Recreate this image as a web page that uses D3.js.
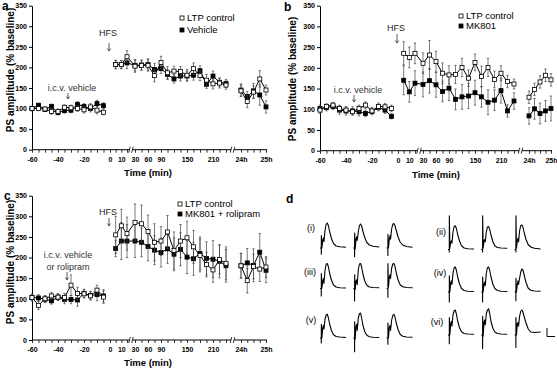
<!DOCTYPE html>
<html>
<head>
<meta charset="utf-8">
<script src="https://cdn.jsdelivr.net/npm/d3@7"></script>
<style>
body { margin: 0; background: #fff; }
svg { display: block; font-family: "Liberation Sans", Arial, sans-serif; }
</style>
</head>
<body>
<script>
var width = 557;
var height = 370;

// time points in minutes (24h block counted as minutes too)
var baseTimes = [-60, -55, -50, -45, -40, -35, -30, -25, -20, -15, -10, -5];
var postTimes = [5, 10, 15, 30, 45, 60, 75, 90, 105, 120, 135, 150, 165, 180, 195, 210, 225, 240];
var dayTimes = [1440, 1455, 1470, 1485, 1500];
var tickMinutes = [-60, -40, -20, 0, 10, 30, 60, 90, 150, 210, 1440, 1500];
var tickLabels = ["-60", "-40", "-20", "0", "10", "30", "60", "90", "150", "210", "24h", "25h"];
var yTicks = [0, 50, 100, 150, 200, 250, 300, 350];

// panel a
var ctrlA = [100, 100, 99, 93, 93, 103, 102, 100, 97, 104, 96, 91,
  207, 207, 226, 203, 205, 205, 180, 212, 187, 191, 190, 181, 197, 180, 169, 160, 162, 157,
  143, 117, 140, 172, 145];
var errCtrlA = [6, 5, 5, 7, 6, 6, 6, 7, 8, 8, 9, 6,
  10, 10, 15, 15, 12, 14, 15, 15, 15, 12, 12, 14, 14, 12, 14, 12, 12, 10,
  14, 15, 15, 20, 12];
var vehA = [100, 108, 98, 105, 90, 95, 96, 110, 105, 100, 112, 107,
  207, 207, 211, 205, 206, 207, 195, 197, 183, 172, 179, 179, 181, 192, 159, 179, 164, 161,
  145, 129, 143, 133, 104];
var errVehA = [5, 5, 5, 6, 5, 6, 6, 7, 7, 8, 8, 7,
  10, 10, 14, 14, 12, 14, 15, 12, 12, 10, 12, 12, 12, 12, 10, 12, 10, 10,
  15, 12, 18, 25, 15];

// panel b
var ctrlB = [98, 107, 110, 102, 98, 94, 102, 110, 96, 107, 106, 102,
  235, 225, 235, 211, 231, 215, 187, 183, 184, 201, 175, 213, 179, 201, 172, 187, 167, 161,
  129, 148, 166, 182, 171];
var errCtrlB = [8, 6, 6, 8, 8, 8, 8, 8, 8, 8, 8, 8,
  28, 25, 25, 25, 35, 25, 25, 22, 22, 22, 20, 20, 25, 22, 20, 18, 15, 12,
  15, 15, 15, 15, 15];
var mkB = [102, 104, 107, 98, 96, 96, 94, 90, 95, 104, 98, 83,
  170, 142, 163, 160, 169, 159, 143, 151, 124, 130, 132, 140, 130, 117, 122, 145, 96, 120,
  84, 101, 90, 96, 102];
var errMkB = [8, 8, 8, 10, 10, 10, 10, 8, 8, 8, 8, 6,
  35, 25, 30, 30, 30, 30, 25, 30, 25, 30, 30, 30, 25, 30, 25, 30, 15, 20,
  20, 25, 25, 25, 30];

// panel c
var ctrlC = [103, 84, 100, 107, 104, 103, 133, 113, 112, 107, 121, 104,
  255, 277, 258, 285, 282, 263, 237, 240, 262, 217, 240, 248, 226, 205, 183, 170, 195, 186,
  180, 144, 178, 172, 177];
var errCtrlC = [8, 10, 8, 8, 8, 10, 25, 15, 10, 10, 12, 15,
  45, 40, 40, 45, 45, 40, 45, 35, 40, 45, 40, 40, 40, 40, 30, 30, 35, 40,
  30, 30, 30, 30, 25];
var mkRoliC = [103, 102, 99, 95, 104, 98, 98, 97, 113, 108, 110, 107,
  222, 240, 240, 240, 237, 227, 218, 212, 221, 208, 220, 201, 197, 210, 198, 196, 191, 180,
  180, 187, 181, 213, 169];
var errMkRoliC = [8, 8, 8, 8, 8, 10, 10, 15, 10, 10, 15, 15,
  20, 45, 40, 40, 35, 35, 35, 35, 35, 40, 40, 40, 40, 40, 40, 45, 40, 40,
  30, 35, 40, 45, 30];

// panel d: field potential traces (ms, amplitude relative to peak)
var traceT = [0, 1.2, 1.25, 1.3, 1.8, 2.6, 3.3, 3.8, 4.8, 5.9, 7, 8, 9.3, 11, 13, 15.5, 19, 25];
var traceLabels = ["(i)", "(ii)", "(iii)", "(iv)", "(v)", "(vi)"];
var tracesI = [
  [0, 0, -0.25, 0.5, 0.0, 0.3, 0.4, 0.25, 0.7, 0.95, 1.0, 0.9, 0.65, 0.38, 0.18, 0.08, 0.05, 0.03],
  [0, 0, -0.35, 0.6, -0.05, 0.35, 0.45, 0.3, 0.65, 0.9, 0.96, 0.88, 0.66, 0.42, 0.22, 0.12, 0.07, 0.04],
  [0, 0, -0.3, 0.55, 0.0, 0.35, 0.5, 0.35, 0.75, 0.95, 0.98, 0.9, 0.7, 0.45, 0.24, 0.12, 0.06, 0.03]];
var tracesII = [
  [0, 0, -0.1, 1.35, 0.05, 0.3, 0.35, 0.25, 0.7, 0.92, 0.95, 0.85, 0.6, 0.35, 0.15, 0.06, 0.03, 0.02],
  [0, 0, -0.1, 1.35, 0.05, 0.35, 0.4, 0.3, 0.7, 0.9, 0.92, 0.82, 0.58, 0.33, 0.15, 0.08, 0.06, 0.05],
  [0, 0, -0.1, 1.35, 0.05, 0.35, 0.45, 0.3, 0.75, 0.95, 0.98, 0.9, 0.66, 0.4, 0.2, 0.1, 0.05, 0.02]];
var tracesIII = [
  [0, 0, -0.3, 0.6, 0.0, 0.3, 0.4, 0.2, 0.72, 0.97, 1.0, 0.88, 0.6, 0.33, 0.14, 0.06, 0.03, 0.02],
  [0, 0, -0.5, 0.55, -0.05, 0.3, 0.35, 0.15, 0.75, 0.98, 1.0, 0.86, 0.58, 0.3, 0.13, 0.06, 0.04, 0.03],
  [0, 0, -0.35, 1.0, 0.05, 0.45, 0.55, 0.4, 0.8, 0.98, 1.0, 0.9, 0.62, 0.35, 0.15, 0.07, 0.04, 0.03]];
var tracesIV = [
  [0, 0, -0.4, 0.65, 0.0, 0.35, 0.45, 0.3, 0.75, 0.97, 1.0, 0.88, 0.6, 0.33, 0.14, 0.06, 0.03, 0.02],
  [0, 0, -0.4, 0.6, 0.0, 0.3, 0.4, 0.25, 0.75, 0.97, 1.0, 0.88, 0.6, 0.33, 0.14, 0.06, 0.03, 0.02],
  [0, 0, -0.35, 0.55, 0.0, 0.3, 0.45, 0.3, 0.55, 0.8, 0.92, 0.88, 0.66, 0.38, 0.16, 0.07, 0.04, 0.03]];
var tracesV = [
  [0, 0, -0.2, 0.55, 0.0, 0.4, 0.5, 0.35, 0.75, 0.92, 0.95, 0.82, 0.55, 0.3, 0.13, 0.06, 0.04, 0.02],
  [0, 0, -0.55, 0.65, -0.05, 0.45, 0.55, 0.3, 0.8, 0.97, 1.0, 0.8, 0.5, 0.26, 0.11, 0.05, 0.03, 0.02],
  [0, 0, -0.25, 0.6, 0.0, 0.4, 0.5, 0.3, 0.7, 0.9, 0.95, 0.85, 0.6, 0.34, 0.15, 0.07, 0.04, 0.03]];
var tracesVI = [
  [0, 0, -0.35, 0.7, 0.0, 0.45, 0.55, 0.35, 0.8, 0.97, 1.0, 0.85, 0.56, 0.3, 0.13, 0.06, 0.04, 0.03],
  [0, 0, -0.55, 0.75, -0.05, 0.5, 0.6, 0.4, 0.85, 1.0, 1.05, 0.88, 0.55, 0.28, 0.12, 0.06, 0.04, 0.03],
  [0, 0, -0.5, 0.7, 0.0, 0.45, 0.5, 0.35, 0.75, 0.95, 1.0, 0.92, 0.72, 0.48, 0.25, 0.12, 0.1, 0.12]];

var times = baseTimes.concat(postTimes, dayTimes);
var segments = [[0, 12], [12, 30], [30, 35]];

var svg = d3.select("body")
    .append("svg")
    .attr("width", width)
    .attr("height", height)

var panels = [
  { letter: "a", lx: 2, ly: 10, left: 32, right: 234, top: 5.7, bottom: 149.7,
    ctrl: ctrlA, ctrlErr: errCtrlA, drug: vehA, drugErr: errVehA,
    names: ["LTP control", "Vehicle"], legX: 182, legY: [18, 30],
    hfs: [108, 36, 43, 51], icv: [72, 91, ["i.c.v. vehicle"], 68, 93, 99],
    titleX: 10, titleY: 70, timeY: 176 },
  { letter: "b", lx: 284, ly: 11, left: 320, right: 231, top: 5.7, bottom: 150.7,
    ctrl: ctrlB, ctrlErr: errCtrlB, drug: mkB, drugErr: errMkB,
    names: ["LTP control", "MK801"], legX: 461, legY: [16, 26],
    hfs: [396, 31, 34, 43], icv: [358, 93, ["i.c.v. vehicle"], 354, 95, 102],
    titleX: 292, titleY: 79, timeY: 178 },
  { letter: "c", lx: 4, ly: 200, left: 32, right: 234, top: 195.7, bottom: 340,
    ctrl: ctrlC, ctrlErr: errCtrlC, drug: mkRoliC, drugErr: errMkRoliC,
    names: ["LTP control", "MK801  +  rolipram"], legX: 180, legY: [204, 214],
    hfs: [108, 215, 218, 226], icv: [68, 258, ["i.c.v. vehicle", "or rolipram"], 67, 272, 280],
    titleX: 10, titleY: 262, timeY: 366 }
];

panels.forEach(function (p) {
  var g = svg.append("g");
  var L = p.left;
  var x = d3.scaleLinear()
      .domain([-60, 0, 15, 30, 240, 1440, 1500])
      .range([L, L + 78, L + 95, L + 103, L + 194, L + 209, L + p.right]);
  var y = d3.scaleLinear().domain([0, 350]).range([p.bottom, p.top]);

  // y axis
  var yAxis = d3.axisLeft(y).tickValues(yTicks).tickSize(3).tickSizeOuter(0).tickPadding(2);
  g.append("g")
      .attr("transform", "translate(" + L + ",0)")
      .call(yAxis)
      .call(function (s) {
        s.selectAll("text").attr("font-size", 7).attr("font-weight", "bold").attr("fill", "#000");
        s.selectAll("line,path").attr("stroke", "#000");
      });

  // x axis: minor ticks then labels
  var minor = d3.axisBottom(x).tickValues(times.concat([0])).tickSize(3).tickFormat("");
  g.append("g")
      .attr("transform", "translate(0," + p.bottom + ")")
      .call(minor)
      .call(function (s) {
        s.select(".domain").remove();
        s.selectAll("line").attr("stroke", "#000").attr("stroke-width", 0.8);
      });
  var labels = d3.axisBottom(x).tickValues(tickMinutes).tickSize(0).tickPadding(7)
      .tickFormat(function (d, i) { return tickLabels[i]; });
  g.append("g")
      .attr("transform", "translate(0," + p.bottom + ")")
      .call(labels)
      .call(function (s) {
        s.select(".domain").remove();
        s.selectAll("text").attr("font-size", 7).attr("font-weight", "bold").attr("fill", "#000");
      });

  // axis line with breaks
  var pieces = [[L, L + 97.5], [L + 100.5, L + 199], [L + 202, L + p.right + 1]];
  pieces.forEach(function (s) {
    g.append("line").attr("x1", s[0]).attr("x2", s[1])
        .attr("y1", p.bottom).attr("y2", p.bottom).attr("stroke", "#000");
  });
  [L + 97.5, L + 100.5, L + 199, L + 202].forEach(function (bx) {
    g.append("line").attr("x1", bx - 0.8).attr("x2", bx + 0.8)
        .attr("y1", p.bottom + 3).attr("y2", p.bottom - 3)
        .attr("stroke", "#000").attr("stroke-width", 0.8);
  });

  // axis titles
  g.append("text")
      .attr("transform", "translate(" + p.titleX + "," + p.titleY + ") rotate(-90)")
      .attr("text-anchor", "middle").attr("dy", "0.35em")
      .attr("font-size", 10).attr("font-weight", "bold")
      .text("PS amplitude (% baseline)");
  g.append("text")
      .attr("x", L + 116).attr("y", p.timeY)
      .attr("text-anchor", "middle")
      .attr("font-size", 9.5).attr("font-weight", "bold")
      .text("Time (min)");
  g.append("text")
      .attr("x", p.lx).attr("y", p.ly)
      .attr("font-size", 12).attr("font-weight", "bold")
      .text(p.letter);

  // series
  var line = d3.line()
      .x(function (d) { return x(d[0]); })
      .y(function (d) { return y(d[1]); });
  function drawSeries(vals, errs, fill) {
    var pts = times.map(function (t, i) { return [t, vals[i], errs[i]]; });
    var sg = g.append("g");
    segments.forEach(function (s) {
      sg.append("path").datum(pts.slice(s[0], s[1]))
          .attr("d", line).attr("fill", "none").attr("stroke", "#000").attr("stroke-width", 1);
    });
    var eb = sg.selectAll(".eb").data(pts).enter().append("g");
    eb.append("line")
        .attr("x1", function (d) { return x(d[0]); })
        .attr("x2", function (d) { return x(d[0]); })
        .attr("y1", function (d) { return y(d[1] - d[2]); })
        .attr("y2", function (d) { return y(d[1] + d[2]); })
        .attr("stroke", "#444").attr("stroke-width", 0.7);
    [-1, 1].forEach(function (sgn) {
      eb.append("line")
          .attr("x1", function (d) { return x(d[0]) - 1.2; })
          .attr("x2", function (d) { return x(d[0]) + 1.2; })
          .attr("y1", function (d) { return y(d[1] + sgn * d[2]); })
          .attr("y2", function (d) { return y(d[1] + sgn * d[2]); })
          .attr("stroke", "#444").attr("stroke-width", 0.7);
    });
    sg.selectAll(".mk").data(pts).enter().append("rect")
        .attr("x", function (d) { return x(d[0]) - 2; })
        .attr("y", function (d) { return y(d[1]) - 2; })
        .attr("width", 4).attr("height", 4)
        .attr("fill", fill).attr("stroke", "#000").attr("stroke-width", 0.8);
  }
  drawSeries(p.drug, p.drugErr, "#000");
  drawSeries(p.ctrl, p.ctrlErr, "#fff");

  // legend
  [["#fff", p.names[0]], ["#000", p.names[1]]].forEach(function (it, i) {
    g.append("rect").attr("x", p.legX - 2).attr("y", p.legY[i] - 2)
        .attr("width", 4).attr("height", 4)
        .attr("fill", it[0]).attr("stroke", "#000").attr("stroke-width", 0.8);
    g.append("text").attr("x", p.legX + 5).attr("y", p.legY[i]).attr("dy", "0.35em")
        .attr("font-size", 9.5).text(it[1]);
  });

  // annotations
  function arrow(ax, y1, y2) {
    g.append("line").attr("x1", ax).attr("x2", ax).attr("y1", y1).attr("y2", y2)
        .attr("stroke", "#333").attr("stroke-width", 0.8);
    g.append("path")
        .attr("d", "M" + (ax - 1.6) + "," + (y2 - 2.5) + "L" + ax + "," + y2 + "L" + (ax + 1.6) + "," + (y2 - 2.5))
        .attr("fill", "none").attr("stroke", "#333").attr("stroke-width", 0.8);
  }
  g.append("text").attr("x", p.hfs[0]).attr("y", p.hfs[1])
      .attr("text-anchor", "middle").attr("font-size", 9).attr("fill", "#222").text("HFS");
  arrow(p.hfs[0] + 1, p.hfs[2], p.hfs[3]);
  p.icv[2].forEach(function (t, i) {
    g.append("text").attr("x", p.icv[0]).attr("y", p.icv[1] + i * 12)
        .attr("text-anchor", "middle").attr("font-size", 9).attr("fill", "#333").text(t);
  });
  arrow(p.icv[3], p.icv[4], p.icv[5]);
});

// panel d
svg.append("text").attr("x", 286).attr("y", 203)
    .attr("font-size", 12).attr("font-weight", "bold").text("d");

var groups = [
  { label: traceLabels[0], traces: tracesI, lx: 311, ly: 228, x0: 320, base: 248 },
  { label: traceLabels[1], traces: tracesII, lx: 441, ly: 232, x0: 448, base: 249.5 },
  { label: traceLabels[2], traces: tracesIII, lx: 310, ly: 272, x0: 320, base: 288.5 },
  { label: traceLabels[3], traces: tracesIV, lx: 440, ly: 273, x0: 448, base: 292 },
  { label: traceLabels[4], traces: tracesV, lx: 311, ly: 320, x0: 320, base: 338 },
  { label: traceLabels[5], traces: tracesVI, lx: 437, ly: 322, x0: 448, base: 335 }
];
var ty = d3.scaleLinear().domain([0, 1]).range([0, -25]);
groups.forEach(function (gr) {
  svg.append("text").attr("x", gr.lx).attr("y", gr.ly).attr("dy", "0.35em")
      .attr("text-anchor", "middle").attr("font-size", 9).attr("fill", "#000").text(gr.label);
  gr.traces.forEach(function (tr, j) {
    var tx = d3.scaleLinear().domain([0, 25]).range([gr.x0 + j * 33.3, gr.x0 + j * 33.3 + 26]);
    var tl = d3.line()
        .x(function (d, i) { return tx(traceT[i]); })
        .y(function (d) { return gr.base + ty(d); });
    svg.append("path").datum(tr).attr("d", tl)
        .attr("fill", "none").attr("stroke", "#000").attr("stroke-width", 1.1)
        .attr("stroke-linejoin", "round");
  });
});

// scale bar
svg.append("path").attr("d", "M547,328L547,336.5L555,336.5")
    .attr("fill", "none").attr("stroke", "#000").attr("stroke-width", 1);
</script>
</body>
</html>
